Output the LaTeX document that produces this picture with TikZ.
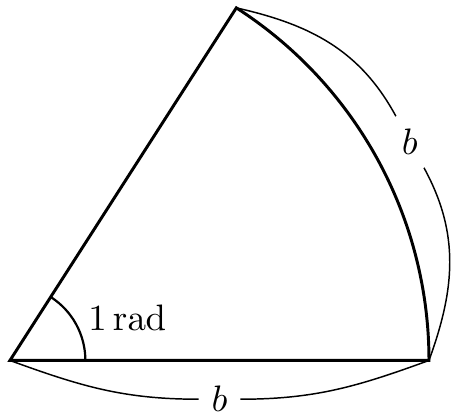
\documentclass[tikz,border=0pt]{standalone}
\usepackage{amsmath}
\usepackage{tikz}
\usetikzlibrary{positioning, calc}

\begin{document}
\begin{tikzpicture}[
        % Define styles for the sector and the length markers
        sector/.style={
            draw=black,
            thick,
            line join=miter
        },
        measure/.style={
            draw=black,
            thin
        },
        anglemark/.style={
            draw=black,
            semithick
        }
    ]

    % Fix the margins
    \useasboundingbox (-0.095,-0.53) rectangle (4.258,3.441);

    % Corner points of the sector
    \coordinate (O) at (0,0);
    \coordinate (A) at (4,0);
    \coordinate (P) at (57.2958:4);

    % Draw the sector
    \draw [sector] (O) -- (A) arc[start angle=0, end angle=57.2958, radius=4] -- cycle;

    % Draw the angle mark
    \draw [anglemark] ([shift={(0.72,0)}]O) arc[start angle=0, end angle=57.2958, radius=0.72];
    \node (angle) at (1.12,0.41) {$1\,\mathrm{rad}$};

    % Draw the length labels
    \node (radiuslabel) at (2,-0.37) {$b$};
    \node (arclabel) at (28.648:4.35) {$b$};

    % Draw the length markers
    \draw [measure] (O) to[out=-20, in=180] (radiuslabel);
    \draw [measure] (radiuslabel) to[out=0, in=200] (A);
    \draw [measure] (P) to[out=-12.7, in=118.6] (arclabel);
    \draw [measure] (arclabel) to[out=-61.4, in=70] (A);

\end{tikzpicture}
\end{document}
